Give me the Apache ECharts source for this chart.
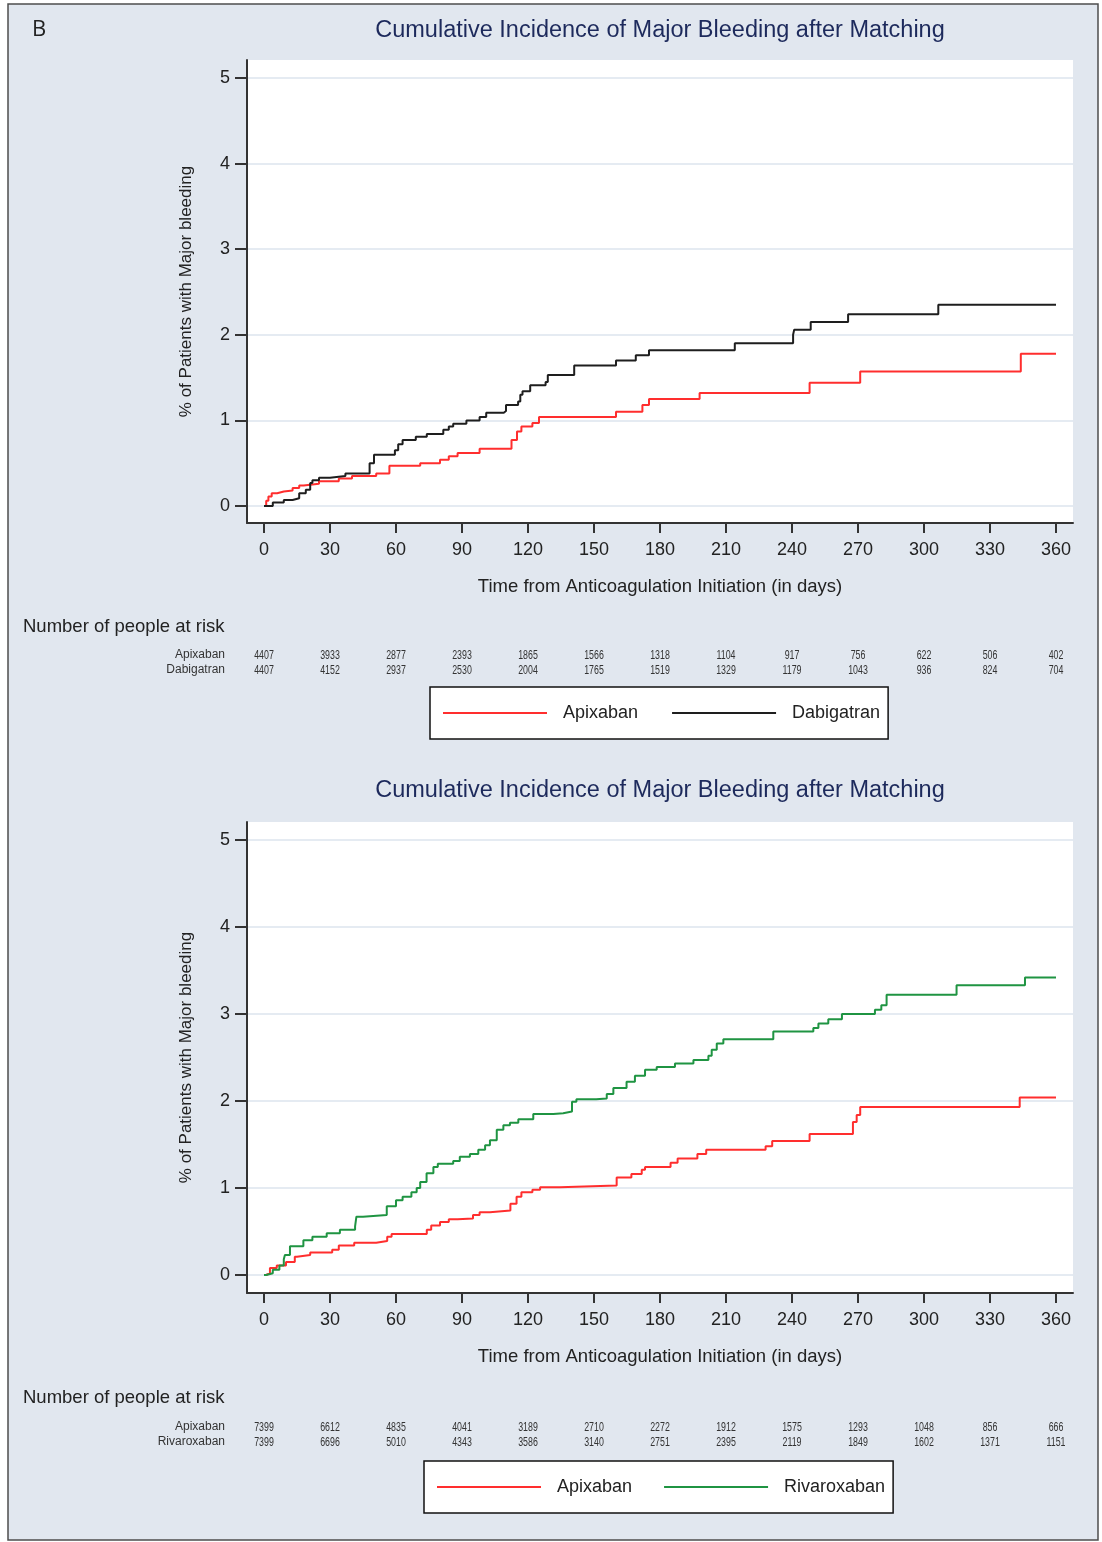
<!DOCTYPE html>
<html>
<head>
<meta charset="utf-8">
<script src="https://cdn.jsdelivr.net/npm/echarts@6/dist/echarts.min.js"></script>
<style>
  html, body { margin: 0; padding: 0; background: #ffffff; }
  #chart { width: 1102px; height: 1542px; }
</style>
</head>
<body>
<div id="chart"></div>
<script>
// ---- Data ---------------------------------------------------------------
const dayTicks = [0, 30, 60, 90, 120, 150, 180, 210, 240, 270, 300, 330, 360];
const pctTicks = [0, 1, 2, 3, 4, 5];
const chartTitle = 'Cumulative Incidence of Major Bleeding after Matching';

// Kaplan-Meier style cumulative incidence: [day, % with major bleeding]
const apixabanVsDabigatran = [
  [0, 0], [1, 0.06], [2, 0.11], [3.5, 0.15], [6, 0.17], [9, 0.18], [13, 0.21],
  [16, 0.24], [18, 0.26], [25, 0.29], [34, 0.32], [40, 0.35], [51, 0.38],
  [57, 0.47], [71, 0.50], [80, 0.54], [84, 0.58], [88, 0.62], [98, 0.67],
  [112.5, 0.77], [115, 0.87], [117, 0.93], [122, 0.97], [125, 1.04], [160, 1.10],
  [172, 1.18], [175, 1.25], [198, 1.32], [248, 1.44], [271, 1.57], [344, 1.78],
  [360, 1.78]
];
const dabigatran = [
  [0, 0], [4, 0.04], [9, 0.07], [13, 0.09], [16, 0.15], [19, 0.19], [21, 0.27],
  [22, 0.30], [25, 0.33], [30, 0.35], [37, 0.38], [48, 0.50], [50, 0.60],
  [59.5, 0.65], [61, 0.72], [63, 0.77], [69, 0.81], [74, 0.84], [81.5, 0.89],
  [84, 0.93], [86, 0.96], [92, 1.00], [98, 1.04], [101, 1.09], [109, 1.11],
  [110, 1.18], [115.5, 1.22], [116.5, 1.30], [117.5, 1.34], [121, 1.41],
  [128, 1.45], [129, 1.53], [141, 1.64], [160, 1.70], [169, 1.76], [175, 1.82],
  [214, 1.90], [240.5, 2.00], [241, 2.06], [248.5, 2.15], [265.5, 2.24],
  [306.5, 2.35], [360, 2.35]
];
const apixabanVsRivaroxaban = [
  [0, 0], [1, 0.02], [2.7, 0.08], [5.8, 0.11], [10, 0.15], [14, 0.21], [15, 0.23],
  [21, 0.26], [31, 0.29], [34, 0.34], [41, 0.37], [51, 0.39], [56, 0.44],
  [58, 0.47], [74, 0.52], [76, 0.57], [80, 0.61], [84, 0.64], [88, 0.65],
  [95, 0.69], [98, 0.72], [102.7, 0.74], [112, 0.82], [114.8, 0.90], [117, 0.95],
  [122, 0.98], [125.5, 1.01], [134.5, 1.03], [160.3, 1.12], [167, 1.16],
  [171.7, 1.21], [173.2, 1.24], [184.8, 1.29], [188, 1.34], [197, 1.39],
  [201, 1.44], [228, 1.48], [231, 1.54], [248, 1.62], [267.7, 1.76],
  [269.4, 1.84], [271, 1.93], [343.5, 2.04], [360, 2.04]
];
const rivaroxaban = [
  [0, 0], [1, 0.02], [4, 0.06], [7, 0.11], [9, 0.18], [9.5, 0.23], [11.8, 0.33],
  [17.9, 0.40], [22, 0.44], [28.5, 0.48], [34.5, 0.52], [41.4, 0.56], [42, 0.67],
  [45, 0.69], [55.8, 0.79], [60, 0.86], [63, 0.90], [67, 0.95], [69.4, 1.00],
  [71, 1.07], [73.9, 1.17], [77, 1.24], [79, 1.28], [86, 1.31], [89, 1.36],
  [93.6, 1.39], [97.4, 1.44], [100.5, 1.49], [102.7, 1.55], [105.8, 1.67],
  [108.8, 1.72], [111.8, 1.75], [115.6, 1.79], [122.4, 1.85], [131.5, 1.86],
  [136, 1.88], [140, 1.99], [142, 2.02], [151, 2.03], [155.8, 2.08],
  [158.8, 2.15], [164.8, 2.22], [168.6, 2.29], [173.2, 2.36], [178.5, 2.39],
  [186.8, 2.43], [195.2, 2.47], [202, 2.52], [203.5, 2.59], [205.8, 2.66],
  [208.8, 2.71], [231.5, 2.80], [249.7, 2.84], [252, 2.89], [256.5, 2.94],
  [262.7, 3.00], [277.7, 3.05], [280.6, 3.10], [283, 3.22], [314.8, 3.33],
  [345.9, 3.42], [360, 3.42]
];

// Number of people at risk, one value per 30-day tick
const atRiskApixabanD = [4407, 3933, 2877, 2393, 1865, 1566, 1318, 1104, 917, 756, 622, 506, 402];
const atRiskDabigatran = [4407, 4152, 2937, 2530, 2004, 1765, 1519, 1329, 1179, 1043, 936, 824, 704];
const atRiskApixabanR = [7399, 6612, 4835, 4041, 3189, 2710, 2272, 1912, 1575, 1293, 1048, 856, 666];
const atRiskRivaroxaban = [7399, 6696, 5010, 4343, 3586, 3140, 2751, 2395, 2119, 1849, 1602, 1371, 1151];

// ---- Styling / layout ---------------------------------------------------
const FONT = '"Liberation Sans", Arial, Helvetica, sans-serif';
const RED = '#ff2e2e';
const BLACK = '#1e1e1e';
const GREEN = '#1f9442';
const AXIS = '#333333';
const GRIDLINE = '#dde5ee';
const PANEL_BG = '#e1e7ef';

// Plot box: x axis from 247 to 1073, day 0 at 264 and day 360 at 1056
const plotLeft = 247, plotWidth = 826, dayPad = 17 / 2.2;
const panels = [
  { top: 60, bottom: 523, yZero: 506, yFive: 78, titleY: 31, riskHeadY: 627, riskRowsY: [655, 670],
    rows: [['Apixaban', atRiskApixabanD], ['Dabigatran', atRiskDabigatran]],
    legend: { left: 430, top: 687, names: ['Apixaban', 'Dabigatran'], gap: 34 } },
  { top: 822, bottom: 1293, yZero: 1275, yFive: 840, titleY: 791, riskHeadY: 1398, riskRowsY: [1427, 1442],
    rows: [['Apixaban', atRiskApixabanR], ['Rivaroxaban', atRiskRivaroxaban]],
    legend: { left: 424, top: 1461, names: ['Apixaban', 'Rivaroxaban'], gap: 32 } }
];

const grid = [], xAxis = [], yAxis = [], legend = [], graphic = [];

graphic.push({
  type: 'rect', z: -10, silent: true,
  shape: { x: 8, y: 4, width: 1090, height: 1536 },
  style: { fill: PANEL_BG, stroke: '#4d4d4d', lineWidth: 1.5 }
});
graphic.push({
  type: 'text', x: 32, y: 30, silent: true,
  style: { text: 'B', fill: '#222', font: '22px "Open Sans", "Noto Sans", sans-serif', verticalAlign: 'middle' }
});

panels.forEach((p, i) => {
  const unit = (p.yZero - p.yFive) / 5;
  grid.push({
    left: plotLeft, top: p.top, width: plotWidth, height: p.bottom - p.top,
    show: true, backgroundColor: '#ffffff', borderWidth: 0, containLabel: false
  });
  xAxis.push({
    type: 'value', gridIndex: i, position: 'bottom',
    min: -dayPad, max: 360 + dayPad,
    axisLine: { show: true, onZero: false, lineStyle: { color: AXIS, width: 2 } },
    axisTick: { show: true, customValues: dayTicks, length: 10, lineStyle: { color: AXIS, width: 2 } },
    axisLabel: { customValues: dayTicks, fontSize: 18, fontFamily: FONT, color: '#222', margin: 18 },
    splitLine: { show: false },
    name: 'Time from Anticoagulation Initiation (in days)',
    nameLocation: 'middle', nameGap: 54,
    nameTextStyle: { fontSize: 18.5, fontFamily: FONT, color: '#222' }
  });
  yAxis.push({
    type: 'value', gridIndex: i,
    min: -(p.bottom - p.yZero) / unit, max: 5 + (p.yFive - p.top) / unit,
    axisLine: { show: true, onZero: false, lineStyle: { color: AXIS, width: 2 } },
    axisTick: { show: true, customValues: pctTicks, length: 12, lineStyle: { color: AXIS, width: 2 } },
    axisLabel: { customValues: pctTicks, fontSize: 18, fontFamily: FONT, color: '#222', margin: 17 },
    splitLine: { show: true, lineStyle: { color: GRIDLINE, width: 1.5 } },
    name: '% of Patients with Major bleeding',
    nameLocation: 'middle', nameGap: 52,
    nameTextStyle: { fontSize: 17, fontFamily: FONT, color: '#222' }
  });
  graphic.push({
    type: 'text', x: 660, y: p.titleY, silent: true,
    style: { text: chartTitle, fill: '#1d2a5c', font: '23.5px ' + FONT, align: 'center', verticalAlign: 'middle' }
  });
  graphic.push({
    type: 'text', x: 23, y: p.riskHeadY, silent: true,
    style: { text: 'Number of people at risk', fill: '#222', font: '18.5px ' + FONT, verticalAlign: 'middle' }
  });
  legend.push({
    data: p.legend.names, orient: 'horizontal', left: p.legend.left, top: p.legend.top,
    icon: 'rect', itemWidth: 104, itemHeight: 2, itemGap: p.legend.gap,
    padding: [16, 8, 16, 13], backgroundColor: '#ffffff', borderColor: '#111', borderWidth: 1.5,
    selectedMode: false,
    textStyle: { fontSize: 18, fontFamily: FONT, color: '#222', padding: [0, 0, 0, 11], lineHeight: 20 }
  });
});

function km(name, data, color, panel) {
  return {
    type: 'line', name, data, step: 'end',
    xAxisIndex: panel, yAxisIndex: panel,
    showSymbol: false, symbol: 'none', silent: true,
    lineStyle: { color, width: 2 }, itemStyle: { color },
    emphasis: { disabled: true }
  };
}

const chart = echarts.init(document.getElementById('chart'), null, { renderer: 'canvas' });
chart.setOption({
  backgroundColor: '#ffffff',
  animation: false,
  grid, xAxis, yAxis, legend, graphic,
  series: [
    km('Apixaban', apixabanVsDabigatran, RED, 0),
    km('Dabigatran', dabigatran, BLACK, 0),
    km('Apixaban', apixabanVsRivaroxaban, RED, 1),
    km('Rivaroxaban', rivaroxaban, GREEN, 1)
  ]
});

// Risk table: counts placed under each day tick using the panel's x scale
const riskTable = [];
panels.forEach((p, i) => {
  p.rows.forEach(([label, counts], r) => {
    const y = p.riskRowsY[r];
    riskTable.push({
      type: 'text', x: 225, y, silent: true,
      style: { text: label, fill: '#333', font: '12px ' + FONT, align: 'right', verticalAlign: 'middle' }
    });
    dayTicks.forEach((d, k) => {
      riskTable.push({
        type: 'text', x: chart.convertToPixel({ xAxisIndex: i }, d), y, scaleX: 0.68, silent: true,
        style: { text: String(counts[k]), fill: '#333', font: '13px ' + FONT, align: 'center', verticalAlign: 'middle' }
      });
    });
  });
});
chart.setOption({ graphic: graphic.concat(riskTable) });
</script>
</body>
</html>
